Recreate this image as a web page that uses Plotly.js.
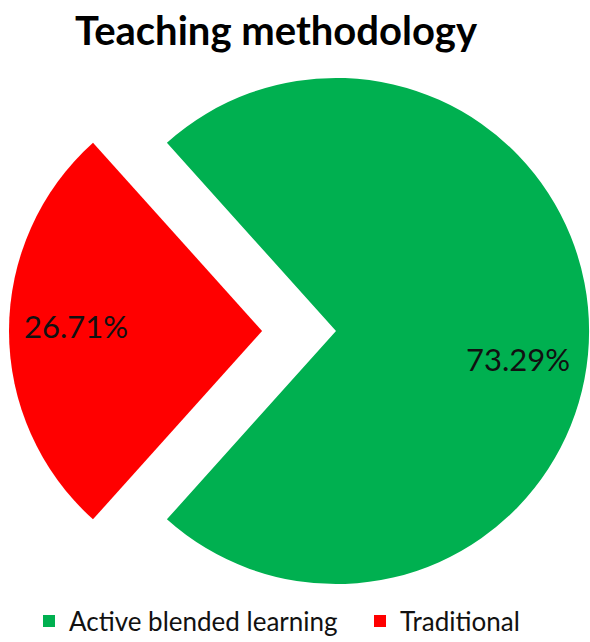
<!DOCTYPE html>
<html>
<head>
<meta charset="utf-8">
<script src="https://cdn.plot.ly/plotly-3.0.1.min.js"></script>
<style>
  html, body { margin: 0; padding: 0; overflow: hidden; background: #ffffff; }
  #chart { width: 700px; height: 700px; }
</style>
</head>
<body>
<div id="chart"></div>
<script>
// Share of students by teaching methodology
const categories = ['Active blended learning', 'Traditional'];
const shares = [73.29, 26.71];
const sliceColors = ['#00B050', '#FF0000'];
const pulls = [0, 0.292];

// Centre the exploded "Traditional" slice on the 9 o'clock direction
const total = shares.reduce((a, b) => a + b, 0);
const startAngle = 270 + 180 * shares[1] / total;

const W = 700, H = 700;
const cx = 336, cy = 331, half = 327;          // pie box centre and half size (px)
const radius = half / (1 + Math.max(...pulls)); // radius plotly derives for the box

// Percentage labels sit partway out along each slice's mid-angle
const labelRadius = [0.72, 0.735];
const labelNudge = [[0, 28], [0, -5]];          // px tweak (right, down)

const labelAnnotations = [];
let cum = 0;
shares.forEach((v, i) => {
  const mid = (startAngle + 360 * (cum + v / 2) / total) * Math.PI / 180;
  cum += v;
  const ox = cx + pulls[i] * radius * Math.sin(mid);
  const oy = cy - pulls[i] * radius * Math.cos(mid);
  const px = ox + labelRadius[i] * radius * Math.sin(mid) + labelNudge[i][0];
  const py = oy - labelRadius[i] * radius * Math.cos(mid) + labelNudge[i][1];
  labelAnnotations.push({
    text: (100 * v / total).toFixed(2) + '%',
    x: px / W, y: 1 - py / H,
    xref: 'paper', yref: 'paper',
    xanchor: 'center', yanchor: 'middle',
    showarrow: false,
    font: { family: 'Lato, sans-serif', size: 31, color: '#111111' }
  });
});

const trace = {
  type: 'pie',
  labels: categories,
  values: shares,
  sort: false,
  direction: 'clockwise',
  rotation: startAngle,
  pull: pulls,
  marker: { colors: sliceColors, line: { width: 0 } },
  textinfo: 'none',
  hoverinfo: 'label+percent',
  domain: {
    x: [(cx - half) / W, (cx + half) / W],
    y: [1 - (cy + half) / H, 1 - (cy - half) / H]
  }
};

const layout = {
  width: W,
  height: H,
  margin: { l: 0, r: 0, t: 0, b: 0 },
  paper_bgcolor: '#ffffff',
  title: {
    text: '<b>Teaching methodology</b>',
    font: { family: 'Lato, sans-serif', size: 40, color: '#000000' },
    x: 276 / W,
    xanchor: 'center',
    xref: 'paper',
    y: 1 - 31 / H,
    yanchor: 'middle',
    yref: 'paper'
  },
  showlegend: true,
  legend: {
    orientation: 'h',
    x: 29 / W,
    xanchor: 'left',
    y: 1 - 621 / H,
    yanchor: 'middle',
    entrywidth: 286,
    font: { family: 'Lato, sans-serif', size: 26, color: '#111111' },
    traceorder: 'normal'
  },
  annotations: labelAnnotations
};

Plotly.newPlot('chart', [trace], layout, { displayModeBar: false, staticPlot: true });
</script>
</body>
</html>
